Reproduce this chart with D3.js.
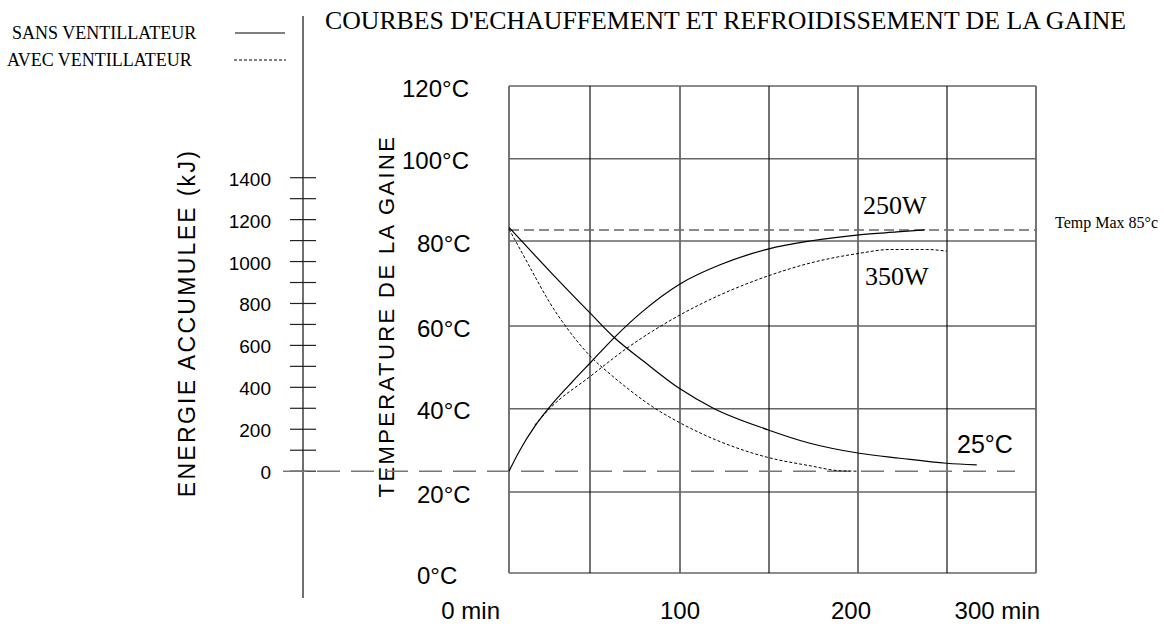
<!DOCTYPE html>
<html>
<head>
<meta charset="utf-8">
<script src="https://cdn.jsdelivr.net/npm/d3@7"></script>
<style>
  body { margin: 0; background: #fff; }
  svg { display: block; }
</style>
</head>
<body>
<div class="root"></div>
<script>
// grid / tick values
var timeGrid = [0, 50, 100, 150, 200, 250, 300];
var timeLabels = [[0, '0 min'], [100, '100'], [200, '200'], [300, '300 min']];
var tempGrid = [0, 20, 40, 60, 80, 100, 120];
var energyTicks = [0, 100, 200, 300, 400, 500, 600, 700, 800, 900, 1000, 1100, 1200, 1300, 1400];

// curves: [minutes, °C]
var heatSans = [[0, 25], [6.8, 30.1], [16, 35.8], [27.2, 41.4], [39.5, 46.7], [50.6, 51.3], [62.8, 56.9],
                [79.4, 63.5], [100, 69.9], [122.5, 74.4], [149.4, 78.1], [173, 80], [200.6, 81.5],
                [221.9, 82.2], [237.6, 82.7]];
var heatAvec = [[16, 36.1], [25.3, 40.1], [50.4, 47.9], [70.4, 54.6], [100, 62.6], [122.5, 67.3],
                [149.6, 71.8], [173, 74.8], [200.7, 77.1], [218, 78], [238.6, 78], [249.8, 77.6]];
var coolSans = [[0, 83.3], [26.4, 72.4], [50.4, 62.9], [63, 57.4], [80, 51.4], [100, 44.8], [118.7, 40.1],
                [149.6, 34.9], [173, 31.7], [200.7, 29.3], [223.6, 28.1], [249.8, 26.9], [266.7, 26.5]];
var coolAvec = [[0, 82.9], [6.8, 78.1], [14.8, 72.5], [25.3, 65.4], [35.8, 59.5], [50.6, 52.5], [61.1, 48.4],
                [70.6, 45], [85, 40.4], [100, 36.6], [122.5, 32.1], [149.4, 28.3], [173, 26.3],
                [189.9, 25.1], [200, 25]];

var ambient = 25;       // long dashed line, also energy 0
var tempMaxLine = 82.7; // where the "Temp Max 85°c" line is drawn

var w = 1164, h = 627;

var svg = d3.select('.root').append('svg')
  .attr('width', w)
  .attr('height', h);

// hand drawn grid is a bit uneven, so piecewise scales
var x = d3.scaleLinear()
  .domain(timeGrid)
  .range([509, 590, 680, 769, 858, 947, 1036]);

var y = d3.scaleLinear()
  .domain(tempGrid)
  .range([573, 492, 408.7, 326, 241, 158.7, 86]);

var e = d3.scaleLinear()
  .domain([0, 1400])
  .range([y(ambient), 177.7]);

var sans = 'Liberation Sans, Arial, sans-serif';
var serif = 'Liberation Serif, Times New Roman, serif';

// title + legend
svg.append('text')
  .attr('x', 325).attr('y', 29)
  .attr('textLength', 801)
  .attr('lengthAdjust', 'spacingAndGlyphs')
  .style('font-family', serif).style('font-size', '26px')
  .text("COURBES D'ECHAUFFEMENT ET REFROIDISSEMENT DE LA GAINE");

svg.append('text').attr('x', 12).attr('y', 39)
  .style('font-family', serif).style('font-size', '18px')
  .text('SANS VENTILLATEUR');
svg.append('text').attr('x', 7).attr('y', 66)
  .style('font-family', serif).style('font-size', '18px')
  .text('AVEC VENTILLATEUR');
svg.append('line').attr('x1', 235).attr('x2', 285).attr('y1', 33).attr('y2', 33)
  .attr('stroke', '#000').attr('stroke-width', 1.2);
svg.append('line').attr('x1', 234).attr('x2', 286).attr('y1', 60).attr('y2', 60)
  .attr('stroke', '#000').attr('stroke-width', 1).attr('stroke-dasharray', '3,2');

// grid
var grid = svg.append('g');
grid.selectAll('.hg')
  .data(tempGrid)
  .enter().append('line')
    .attr('x1', x(0)).attr('x2', x(300))
    .attr('y1', function(d) { return y(d); })
    .attr('y2', function(d) { return y(d); })
    .attr('stroke', '#666').attr('stroke-width', 1.6);
grid.selectAll('.vg')
  .data(timeGrid)
  .enter().append('line')
    .attr('x1', function(d) { return x(d); })
    .attr('x2', function(d) { return x(d); })
    .attr('y1', y(120)).attr('y2', y(0))
    .attr('stroke', function(d) { return d % 100 === 0 ? '#666' : '#000'; })
    .attr('stroke-width', function(d) { return d % 100 === 0 ? 1.8 : 1.1; });

// temperature labels
svg.append('g').selectAll('text')
  .data(tempGrid)
  .enter().append('text')
    .attr('x', function(d) { return d >= 100 ? 402 : 417; })
    .attr('y', function(d) { return y(d) + 2; })
    .attr('dominant-baseline', 'central')
    .style('font-family', sans).style('font-size', '24px')
    .text(function(d) { return d + '°C'; });

// time labels
svg.append('g').selectAll('text')
  .data(timeLabels)
  .enter().append('text')
    .attr('x', function(d, i) {
      if (i === 0) return x(d[0]) - 9;
      if (i === timeLabels.length - 1) return x(d[0]) + 4;
      return x(d[0]) - (d[0] === 200 ? 7 : 0);
    })
    .attr('y', 619)
    .attr('text-anchor', function(d, i) { return (i === 0 || i === timeLabels.length - 1) ? 'end' : 'middle'; })
    .style('font-family', sans).style('font-size', '24px')
    .text(function(d) { return d[1]; });

// energy axis
svg.append('line').attr('x1', 303).attr('x2', 303).attr('y1', 16).attr('y2', 598)
  .attr('stroke', '#333').attr('stroke-width', 1.4);
svg.append('g').selectAll('line')
  .data(energyTicks)
  .enter().append('line')
    .attr('x1', 290).attr('x2', 316)
    .attr('y1', function(d) { return e(d); })
    .attr('y2', function(d) { return e(d); })
    .attr('stroke', '#222').attr('stroke-width', 1.2);
svg.append('g').selectAll('text')
  .data(energyTicks.filter(function(d) { return d % 200 === 0; }))
  .enter().append('text')
    .attr('x', 271)
    .attr('y', function(d) { return e(d) + 1.5; })
    .attr('text-anchor', 'end')
    .attr('dominant-baseline', 'central')
    .style('font-family', sans).style('font-size', '19px')
    .text(function(d) { return d; });

// rotated axis titles
svg.append('text')
  .attr('transform', 'translate(195,323) rotate(-90)')
  .attr('text-anchor', 'middle')
  .style('font-family', sans).style('font-size', '23px').style('letter-spacing', '2.3px')
  .text('ENERGIE ACCUMULEE (kJ)');
svg.append('text')
  .attr('transform', 'translate(394,316) rotate(-90)')
  .attr('text-anchor', 'middle')
  .style('font-family', sans).style('font-size', '22px').style('letter-spacing', '2.4px')
  .text('TEMPERATURE DE LA GAINE');

// reference dashed lines
svg.append('line')
  .attr('x1', 283).attr('x2', 1015)
  .attr('y1', y(ambient)).attr('y2', y(ambient))
  .attr('stroke', '#777').attr('stroke-width', 1.6).attr('stroke-dasharray', '23,11');
svg.append('line')
  .attr('x1', x(0)).attr('x2', x(300))
  .attr('y1', y(tempMaxLine)).attr('y2', y(tempMaxLine))
  .attr('stroke', '#666').attr('stroke-width', 1.5).attr('stroke-dasharray', '10,5');

// curves
var line = d3.line()
  .x(function(d) { return x(d[0]); })
  .y(function(d) { return y(d[1]); })
  .curve(d3.curveMonotoneX);

[[heatSans, null], [coolSans, null], [heatAvec, '3,2'], [coolAvec, '3,2']].forEach(function(c) {
  svg.append('path')
    .attr('d', line(c[0]))
    .attr('fill', 'none')
    .attr('stroke', '#000')
    .attr('stroke-width', c[1] ? 1 : 1.2)
    .attr('stroke-dasharray', c[1]);
});

// annotations
svg.append('text').attr('x', 863).attr('y', 214)
  .style('font-family', serif).style('font-size', '26px').text('250W');
svg.append('text').attr('x', 865).attr('y', 285)
  .style('font-family', serif).style('font-size', '26px').text('350W');
svg.append('text').attr('x', 957).attr('y', 453)
  .style('font-family', sans).style('font-size', '25px').text('25°C');
svg.append('text').attr('x', 1055).attr('y', 228)
  .style('font-family', serif).style('font-size', '16px').text('Temp Max 85°c');
</script>
</body>
</html>
